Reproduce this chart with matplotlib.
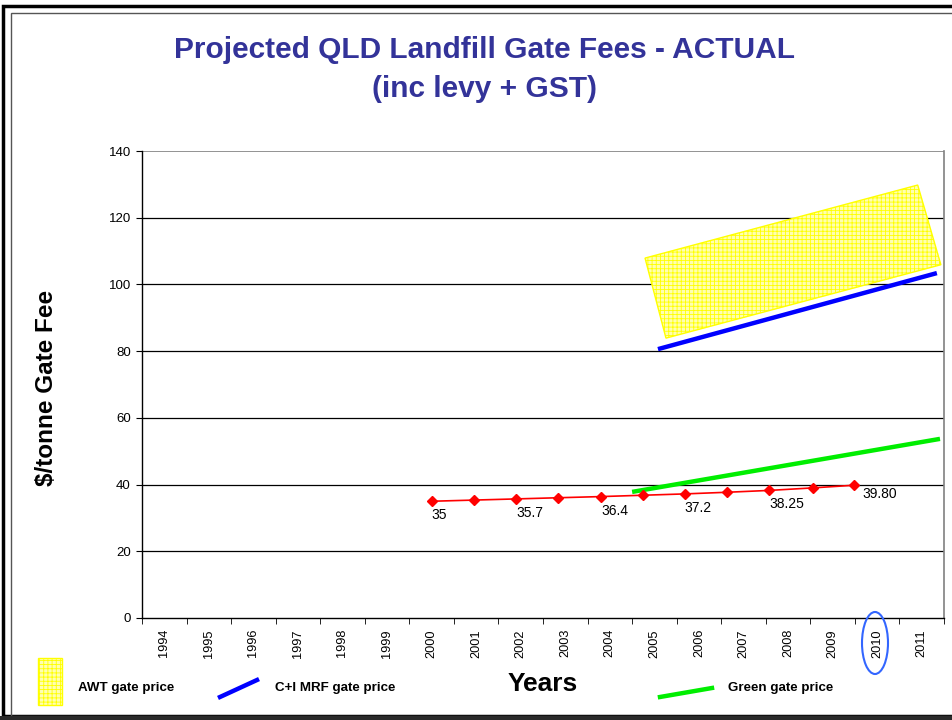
import matplotlib.pyplot as plt
import numpy as np
from matplotlib.patches import Polygon, Ellipse, Rectangle
from matplotlib.lines import Line2D

plt.rcParams['font.family'] = ['Liberation Sans', 'DejaVu Sans']
plt.rcParams['hatch.linewidth'] = 0.6

# categories on the x axis
years = [str(y) for y in range(1994, 2012)]

# actual gate fee (red) - points sit slightly off the category centres in the original
actual_x = [2000.0, 2000.95, 2001.9, 2002.84, 2003.8, 2004.74, 2005.68,
            2006.64, 2007.58, 2008.55, 2009.48]
actual_fee = [35, 35.35, 35.7, 36.05, 36.4, 36.8, 37.2, 37.7, 38.25, 39.0, 39.8]
label_idx = [0, 2, 4, 6, 8, 10]
label_text = ["35", "35.7", "36.4", "37.2", "38.25", "39.80"]

# projected lines (x as fractional year)
green_x = [2004.5, 2011.41]
green_y = [37.8, 53.7]
mrf_x = [2005.08, 2011.34]
mrf_y = [80.6, 103.4]

# AWT band corners
awt_x = [2004.79, 2010.91, 2011.43, 2005.26]
awt_y = [107.9, 129.8, 105.9, 83.9]


def xpos(yr):
    # category centre is at index + 0.5
    return np.asarray(yr, dtype=float) - 1994 + 0.5


fig = plt.figure(figsize=(9.52, 7.2), dpi=100)
ax = fig.add_axes([142 / 952, 102 / 720, 802 / 952, 467 / 720])

ax.set_xlim(0, len(years))
ax.set_ylim(0, 140)
ax.set_yticks(range(0, 141, 20))
ax.set_yticklabels([str(v) for v in range(0, 141, 20)], fontsize=9.5)
ax.set_xticks(np.arange(len(years)) + 0.5)
ax.set_xticklabels(years, rotation=90, fontsize=9.2)
ax.set_xticks(np.arange(len(years) + 1), minor=True)
ax.tick_params(axis='x', which='major', length=0, pad=8)
ax.tick_params(axis='x', which='minor', length=4, direction='out', color='black')
ax.tick_params(axis='y', length=4, direction='out', pad=4)

for v in range(20, 121, 20):
    ax.axhline(v, color='black', lw=0.9, zorder=1)
ax.axhline(140, color='#808080', lw=1.2, zorder=1)
ax.spines['top'].set_visible(False)
ax.spines['right'].set_color('#808080')
ax.spines['right'].set_linewidth(1.2)
ax.spines['left'].set_linewidth(1)
ax.spines['bottom'].set_linewidth(1)

# AWT band
awt = Polygon(np.column_stack([xpos(awt_x), awt_y]), closed=True,
              facecolor='#ffffb0', edgecolor='#ffff00', hatch='++++', lw=1, zorder=2)
ax.add_patch(awt)

ax.plot(xpos(mrf_x), mrf_y, color='#0000ff', lw=3.2, solid_capstyle='butt', zorder=3)
ax.plot(xpos(green_x), green_y, color='#00ee00', lw=3.2, solid_capstyle='butt', zorder=3)
ax.plot(xpos(actual_x), actual_fee, color='#ff0000', lw=1.2, marker='D',
        markersize=5, markerfacecolor='#ff0000', markeredgecolor='#ff0000', zorder=4)

for i, txt in zip(label_idx, label_text):
    last = i == len(actual_x) - 1
    ax.annotate(txt, (xpos(actual_x[i]), actual_fee[i]),
                xytext=(8 if last else 0, -9 if last else -14),
                textcoords='offset pixels', ha='left', va='center', fontsize=10)

# circle around 2010
fig.patches.append(Ellipse((875 / 952, 1 - 643 / 720), 26 / 952, 62 / 720,
                           transform=fig.transFigure, fill=False,
                           edgecolor='#3366ff', lw=1.5))

# title
fig.text(484 / 952, 1 - 50 / 720, "Projected QLD Landfill Gate Fees - ACTUAL",
         ha='center', va='center', fontsize=21.5, fontweight='bold', color='#333399')
fig.text(484 / 952, 1 - 89 / 720, "(inc levy + GST)",
         ha='center', va='center', fontsize=21.5, fontweight='bold', color='#333399')

fig.text(47 / 952, 1 - 388 / 720, "$/tonne Gate Fee", rotation=90,
         ha='center', va='center', fontsize=17.5, fontweight='bold')
fig.text(543 / 952, 1 - 684 / 720, "Years", ha='center', va='center',
         fontsize=19, fontweight='bold')

# bottom legend
fig.patches.append(Rectangle((38 / 952, 1 - 705 / 720), 24 / 952, 47 / 720,
                             transform=fig.transFigure, facecolor='#ffffb0',
                             edgecolor='#ffff00', hatch='++++', lw=1))
fig.text(78 / 952, 1 - 688 / 720, "AWT gate price", ha='left', va='center',
         fontsize=9.6, fontweight='bold')
fig.lines.append(Line2D([220 / 952, 257 / 952], [1 - 697 / 720, 1 - 680 / 720],
                        transform=fig.transFigure, color='#0000ff', lw=3.2))
fig.text(275 / 952, 1 - 688 / 720, "C+I MRF gate price", ha='left', va='center',
         fontsize=9.6, fontweight='bold')
fig.lines.append(Line2D([660 / 952, 712 / 952], [1 - 697 / 720, 1 - 688 / 720],
                        transform=fig.transFigure, color='#00ee00', lw=3.2))
fig.text(728 / 952, 1 - 688 / 720, "Green gate price", ha='left', va='center',
         fontsize=9.6, fontweight='bold')

# slide frame
fig.patches.append(Rectangle((3 / 952, 4 / 720), 2000, 710 / 720, transform=fig.transFigure,
                             fill=False, edgecolor='black', lw=2.5))
fig.patches.append(Rectangle((11 / 952, 4 / 720), 2000, 703 / 720, transform=fig.transFigure,
                             fill=False, edgecolor='#555555', lw=1))
fig.patches.append(Rectangle((0, 0), 1, 4 / 720, transform=fig.transFigure,
                             facecolor='#2a2a2a', edgecolor='none'))

fig.savefig("out.png", dpi=100)
